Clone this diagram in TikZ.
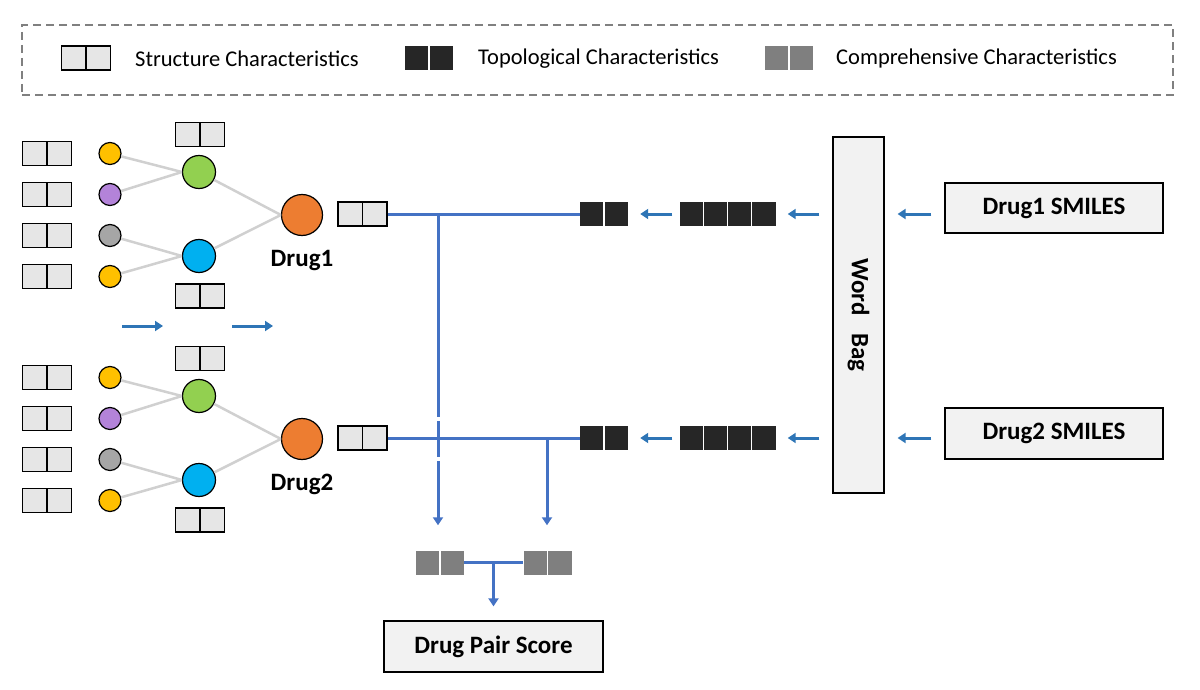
\documentclass[tikz,border=0pt]{standalone}
\usepackage{fontspec}
\setmainfont{Carlito}
\usetikzlibrary{arrows.meta}

\definecolor{cellgray}{HTML}{E6E6E6}
\definecolor{boxgray}{HTML}{F2F2F2}
\definecolor{topodark}{HTML}{262626}
\definecolor{compgray}{HTML}{7F7F7F}
\definecolor{legendgray}{HTML}{808080}
\definecolor{bondgray}{HTML}{D0D0D0}
\definecolor{atomyellow}{HTML}{FFC000}
\definecolor{atompurple}{HTML}{B383D9}
\definecolor{atomgray}{HTML}{A6A6A6}
\definecolor{midgreen}{HTML}{92D050}
\definecolor{midblue}{HTML}{00B0F0}
\definecolor{drugorange}{HTML}{ED7D31}
\definecolor{arrowblue}{HTML}{2E75B6}
\definecolor{linkblue}{HTML}{4472C4}

\begin{document}
\begin{tikzpicture}[
  x=1pt, y=-1pt,
  pair/.style={rectangle, draw, line width=1.2pt, fill=cellgray, minimum width=49pt, minimum height=24pt, inner sep=0pt,
    path picture={\draw[line width=1.2pt] (path picture bounding box.north) -- (path picture bounding box.south);}},
  topopair/.style={rectangle, fill=topodark, minimum width=48pt, minimum height=24pt, inner sep=0pt,
    path picture={\draw[white, line width=1.2pt] (path picture bounding box.north) -- (path picture bounding box.south);}},
  topoquad/.style={rectangle, fill=topodark, minimum width=96pt, minimum height=24pt, inner sep=0pt,
    path picture={\foreach \k in {24,48,72} \draw[white, line width=1.2pt] ([xshift=\k pt]path picture bounding box.north west) -- ([xshift=\k pt]path picture bounding box.south west);}},
  compair/.style={rectangle, fill=compgray, minimum width=48pt, minimum height=24pt, inner sep=0pt,
    path picture={\draw[white, line width=1.2pt] (path picture bounding box.north) -- (path picture bounding box.south);}},
  atom/.style={circle, draw, line width=1.2pt, inner sep=0pt, minimum size=22pt},
  midnode/.style={circle, draw, line width=1.2pt, inner sep=0pt, minimum size=33pt},
  drug/.style={circle, draw, line width=1.2pt, inner sep=0pt, minimum size=41pt, fill=drugorange},
  druglabel/.style={inner sep=0pt, font=\bfseries\fontsize{25}{30}\selectfont},
  box/.style={rectangle, draw, line width=1.2pt, fill=boxgray, inner sep=0pt, font=\bfseries\fontsize{25}{30}\selectfont},
  legendtext/.style={anchor=west, inner sep=0pt, font=\fontsize{22.5}{27}\selectfont},
  bond/.style={draw=bondgray, line width=2.5pt},
  flow/.style={-{Triangle[width=10pt,length=8pt]}, draw=arrowblue, line width=3pt},
  bluelink/.style={draw=linkblue, line width=3pt},
  bluedrop/.style={-{Triangle[width=10pt,length=8pt]}, draw=linkblue, line width=3pt}
]
\useasboundingbox (0,0) rectangle (1200,690);

% Legend
\node[draw=legendgray, dash pattern=on 8pt off 5pt, line width=1.8pt, minimum width=1151pt, minimum height=70pt] (legend) at (597.5,60) {};
\node[pair] (legstruct) at (86,58) {};
\node[legendtext] (legstructtext) at (135,59) {Structure Characteristics};
\node[topopair] (legtopo) at (429,58) {};
\node[legendtext] (legtopotext) at (478,59) {Topological Characteristics};
\node[compair] (legcomp) at (789,58) {};
\node[legendtext] (legcomptext) at (836,59) {Comprehensive Characteristics};

% Molecule graphs
\foreach \g/\dy in {1/0, 2/224}{
  \foreach \r/\yy/\col in {1/153.5/atomyellow, 2/194.5/atompurple, 3/235.5/atomgray, 4/276.5/atomyellow}{
    \node[pair] (in\g-\r) at (47,\yy+\dy) {};
    \node[atom, fill=\col] (a\g-\r) at (110,\yy+\dy) {};
  }
  \node[midnode, fill=midgreen] (g\g) at (199,172+\dy) {};
  \node[midnode, fill=midblue] (b\g) at (199,256+\dy) {};
  \node[pair] (gf\g) at (200,134.5+\dy) {};
  \node[pair] (bf\g) at (200,296+\dy) {};
  \node[drug] (d\g) at (302,215+\dy) {};
  \node[druglabel] (dl\g) at (302,260+\dy) {Drug\g};
  \node[pair] (out\g) at (362.5,214+\dy) {};
  % bonds
  \draw[bond] (a\g-1) -- (g\g.west);
  \draw[bond] (a\g-2) -- (g\g.west);
  \draw[bond] (a\g-3) -- (b\g.west);
  \draw[bond] (a\g-4) -- (b\g.west);
  \draw[bond] (g\g) -- (d\g.west);
  \draw[bond] (b\g) -- (d\g.west);
}

% Small arrows under the first graph
\coordinate (f1) at (122,326);
\coordinate (f2) at (163,326);
\coordinate (f3) at (232,326);
\coordinate (f4) at (273,326);
\draw[flow] (f1) -- (f2);
\draw[flow] (f3) -- (f4);

% Right side
\node[box, minimum width=218pt, minimum height=50pt] (smiles1) at (1054,208) {\raisebox{-2pt}{Drug1 SMILES}};
\node[box, minimum width=218pt, minimum height=51pt] (smiles2) at (1054,433.5) {\raisebox{-2pt}{Drug2 SMILES}};
\node[box, minimum width=51pt, minimum height=356pt] (bag) at (858.5,315) {};
\node[rotate=-90, inner sep=0pt, font=\bfseries\fontsize{25}{30}\selectfont] (bagtext) at (bag.center) {Word\hspace{18pt}Bag};

\node[topoquad] (quad1) at (727.5,214) {};
\node[topoquad] (quad2) at (727.5,438) {};
\node[topopair] (topo1) at (604,214) {};
\node[topopair] (topo2) at (604,438) {};

\draw[flow, shorten <=13pt, shorten >=13pt] (smiles1.west |- topo1) -- (bag.east |- topo1);
\draw[flow, shorten <=13pt, shorten >=13pt] (smiles2.west |- topo2) -- (bag.east |- topo2);
\draw[flow, shorten <=13pt, shorten >=12pt] (bag.west |- topo1) -- (quad1.east);
\draw[flow, shorten <=13pt, shorten >=12pt] (bag.west |- topo2) -- (quad2.east);
\draw[flow, shorten <=7pt, shorten >=12pt] (quad1.west) -- (topo1.east);
\draw[flow, shorten <=7pt, shorten >=12pt] (quad2.west) -- (topo2.east);

% Joining the two drugs
\node[compair] (comp1) at (440,562.5) {};
\node[compair] (comp2) at (547.5,562.5) {};
\node[box, minimum width=219pt, minimum height=51pt] (score) at (493.5,646.5) {\raisebox{-2pt}{Drug Pair Score}};

\draw[bluelink] (out1.east) -- (topo1.west);
\draw[bluelink] (out2.east) -- (topo2.west);
\coordinate (j1) at (438,214);
\coordinate (j2) at (547,438);
\draw[bluedrop, dash pattern=on 203pt off 4pt on 36pt off 4pt on 300pt, shorten >=25pt] (j1) -- (j1 |- comp1.north);
\draw[bluedrop, shorten >=25pt] (j2) -- (j2 |- comp2.north);
\draw[bluelink] (comp1.east) -- (comp2.west);
\coordinate (j3) at (493.5,562.5);
\draw[bluedrop, shorten >=14pt] (j3) -- (score.north);

\end{tikzpicture}
\end{document}
